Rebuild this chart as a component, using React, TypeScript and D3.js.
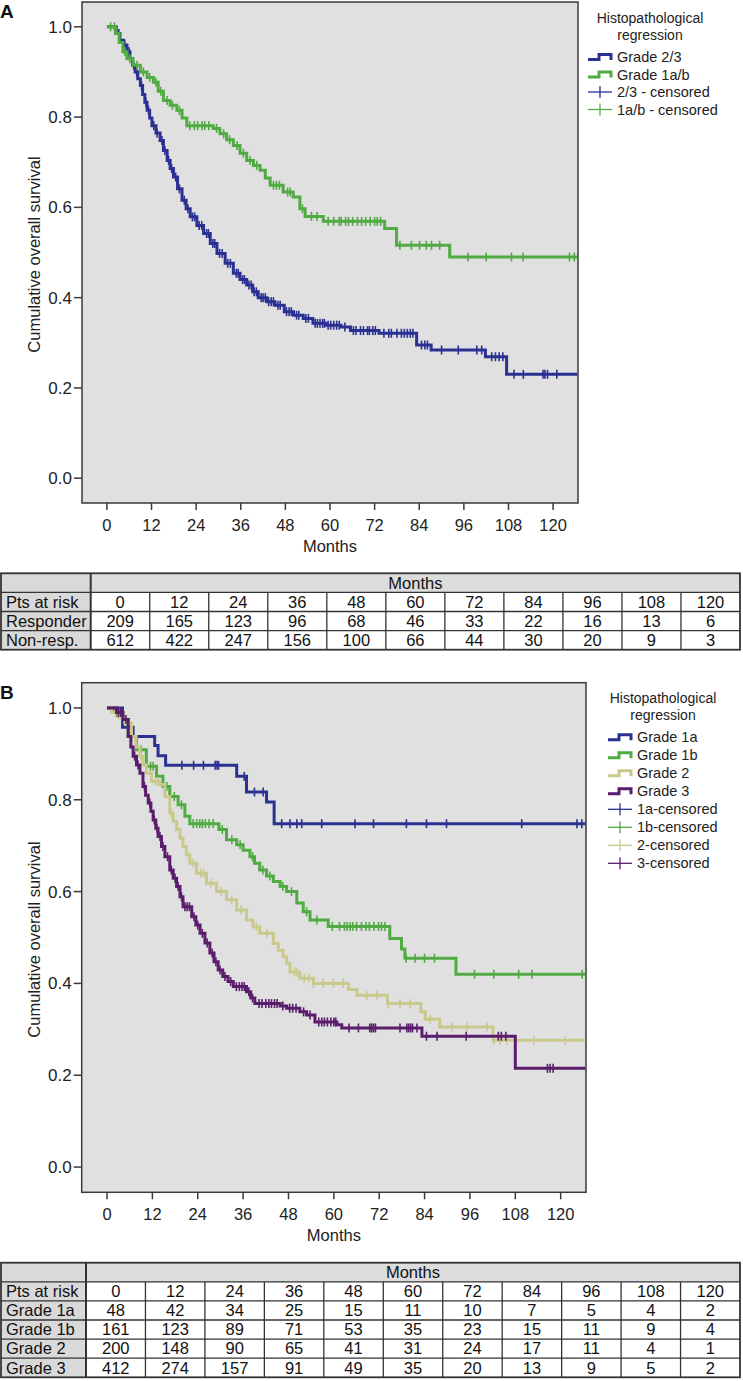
import React from 'react';
import * as d3 from 'd3';

// ---------- shared ticks ----------
const monthTicks = [0, 12, 24, 36, 48, 60, 72, 84, 96, 108, 120];
const survTicks = [0, 0.2, 0.4, 0.6, 0.8, 1.0];

// ---------- Panel A data ----------
const aGrade23Times = [2.5, 3.5, 4.5, 5.4, 6.2, 6.9, 7.6, 8.3, 9.0, 9.6, 10.2, 10.8, 11.5, 12.1, 13.2, 14.3, 15.2, 16.2, 17.0, 17.9, 19.0, 20.2, 21.3, 22.4, 24.2, 26.0, 27.8, 29.6, 31.8, 34.0, 35.8, 37.6, 39.2, 40.7, 43.0, 45.2, 47.7, 50.2, 52.8, 55.4, 59.0, 63.0, 65.5, 73.2, 83.3, 87.2, 101.8, 107.5];
const aGrade23Surv = [0.985, 0.97, 0.96, 0.945, 0.93, 0.915, 0.9, 0.885, 0.87, 0.85, 0.833, 0.815, 0.798, 0.781, 0.765, 0.748, 0.726, 0.704, 0.686, 0.667, 0.641, 0.616, 0.597, 0.579, 0.56, 0.542, 0.52, 0.498, 0.476, 0.454, 0.44, 0.428, 0.413, 0.4, 0.391, 0.383, 0.369, 0.361, 0.354, 0.343, 0.339, 0.335, 0.327, 0.321, 0.295, 0.284, 0.269, 0.23];
const aGrade23Censored = [3.2, 4.8, 6.0, 7.2, 8.0, 9.3, 10.5, 11.2, 12.6, 13.5, 14.8, 15.6, 16.6, 17.4, 18.5, 19.5, 20.8, 21.8, 23.0, 23.6, 24.8, 25.5, 26.8, 27.3, 28.5, 29.0, 30.3, 31.0, 32.5, 33.2, 34.8, 35.3, 36.5, 37.0, 38.2, 38.8, 39.6, 40.2, 41.5, 42.0, 42.6, 43.5, 44.2, 44.8, 46.0, 46.6, 48.3, 49.0, 49.6, 51.0, 51.6, 53.5, 54.2, 56.0, 56.6, 57.3, 58.0, 58.5, 59.5, 60.2, 61.0, 61.8, 62.5, 64.0, 66.3, 67.0, 68.2, 69.0, 70.1, 70.6, 71.5, 72.2, 74.5, 75.8, 76.5, 78.0, 79.2, 80.0, 80.8, 81.6, 82.3, 84.6, 85.5, 86.2, 90.0, 94.5, 99.5, 100.8, 103.5, 104.5, 105.5, 106.5, 109.5, 112.0, 117.3, 117.8, 118.5, 121.0];
const aGrade1abTimes = [2.3, 3.3, 4.3, 5.4, 7.0, 9.0, 10.8, 12.5, 13.8, 15.2, 17.0, 18.8, 20.2, 21.5, 28.6, 30.4, 32.2, 34.0, 35.8, 37.6, 39.4, 41.2, 42.6, 43.9, 47.4, 50.1, 51.9, 53.3, 58.2, 74.7, 77.9, 92.2];
const aGrade1abSurv = [0.985, 0.965, 0.945, 0.929, 0.915, 0.9, 0.888, 0.877, 0.857, 0.837, 0.826, 0.815, 0.798, 0.781, 0.775, 0.763, 0.75, 0.737, 0.72, 0.704, 0.693, 0.682, 0.665, 0.649, 0.634, 0.623, 0.597, 0.58, 0.569, 0.553, 0.516, 0.49];
const aGrade1abCensored = [1.0, 2.0, 4.8, 6.2, 8.1, 9.8, 11.5, 13.2, 14.5, 16.2, 17.6, 19.5, 22.3, 23.5, 24.4, 25.6, 26.3, 27.4, 29.5, 31.4, 33.0, 35.0, 36.7, 38.5, 40.3, 44.8, 45.6, 46.4, 48.6, 49.3, 52.6, 55.0, 56.5, 59.5, 61.0, 62.5, 63.0, 64.2, 65.0, 66.1, 67.4, 68.5, 69.6, 70.8, 72.0, 72.7, 73.6, 78.8, 81.9, 84.1, 85.9, 87.3, 89.5, 97.1, 102.0, 108.8, 111.9, 124.4, 125.7];

// ---------- Panel B data ----------
const bGrade1aTimes = [4.1, 6.9, 12.6, 13.5, 15.5, 34.3, 36.9, 42.2, 44.2];
const bGrade1aSurv = [0.958, 0.938, 0.918, 0.896, 0.875, 0.851, 0.817, 0.795, 0.748];
const bGrade1aCensored = [19.8, 22.9, 25.5, 28.6, 29.1, 29.5, 36.3, 39.0, 41.3, 46.2, 48.4, 50.2, 51.5, 56.8, 65.6, 70.5, 79.2, 84.5, 89.8, 109.7, 124.3, 125.6];
const bGrade1bTimes = [1.6, 4.2, 5.6, 7.8, 10.4, 13.1, 14.8, 16.6, 18.8, 20.6, 21.9, 29.6, 31.6, 34.3, 36.0, 37.8, 39.0, 40.4, 42.2, 44.0, 45.8, 47.5, 50.2, 51.9, 53.7, 58.5, 74.8, 77.9, 78.8, 92.3];
const bGrade1bSurv = [0.99, 0.975, 0.938, 0.909, 0.873, 0.851, 0.829, 0.807, 0.789, 0.764, 0.748, 0.735, 0.713, 0.702, 0.69, 0.676, 0.662, 0.647, 0.634, 0.622, 0.611, 0.6, 0.575, 0.556, 0.538, 0.524, 0.498, 0.475, 0.455, 0.42];
const bGrade1bCensored = [2.5, 3.2, 6.5, 9.0, 11.5, 12.2, 15.8, 17.8, 19.7, 22.8, 23.7, 24.5, 25.2, 26.0, 27.0, 28.1, 30.5, 33.0, 35.2, 38.5, 41.2, 43.1, 46.5, 48.8, 52.8, 55.5, 59.6, 61.5, 62.8, 63.5, 64.3, 65.0, 66.0, 67.3, 68.5, 69.4, 70.6, 71.8, 72.6, 73.5, 79.1, 81.5, 84.0, 86.6, 97.2, 102.3, 108.9, 112.4, 125.7];
const bGrade2Times = [1.2, 3.0, 4.7, 6.5, 7.6, 8.7, 9.5, 10.4, 11.8, 14.0, 15.3, 16.6, 17.5, 18.4, 19.3, 20.1, 21.0, 21.9, 23.7, 26.3, 29.0, 31.6, 34.3, 36.9, 38.6, 40.4, 44.0, 45.3, 46.6, 47.5, 48.4, 51.0, 54.6, 63.9, 66.1, 74.2, 83.0, 84.2, 88.0, 102.1];
const bGrade2Surv = [0.99, 0.98, 0.967, 0.938, 0.915, 0.895, 0.876, 0.858, 0.84, 0.833, 0.807, 0.771, 0.753, 0.735, 0.716, 0.698, 0.68, 0.662, 0.64, 0.618, 0.6, 0.582, 0.56, 0.538, 0.523, 0.509, 0.487, 0.472, 0.458, 0.444, 0.425, 0.411, 0.4, 0.387, 0.374, 0.356, 0.338, 0.322, 0.305, 0.276];
const bGrade2Censored = [2.2, 5.5, 9.0, 12.8, 13.5, 17.0, 22.8, 24.8, 25.5, 27.5, 30.2, 33.0, 35.5, 39.5, 42.3, 49.6, 50.3, 52.2, 53.4, 54.6, 57.2, 59.9, 62.5, 68.7, 71.4, 74.4, 77.5, 80.2, 85.5, 91.2, 95.2, 100.5, 102.3, 104.0, 105.8, 108.0, 112.9, 121.2];
const bGrade3Times = [2.5, 4.2, 5.6, 6.3, 6.9, 7.8, 8.7, 9.5, 10.2, 10.9, 11.6, 12.2, 12.9, 13.5, 14.4, 15.3, 16.6, 17.5, 18.4, 19.3, 20.1, 22.4, 23.5, 24.6, 25.9, 27.2, 28.3, 29.4, 30.6, 32.0, 33.4, 36.9, 38.0, 39.1, 45.8, 47.5, 51.0, 52.8, 55.0, 60.8, 62.1, 83.3, 108.0];
const bGrade3Surv = [0.99, 0.975, 0.938, 0.915, 0.895, 0.876, 0.858, 0.829, 0.81, 0.793, 0.775, 0.756, 0.738, 0.72, 0.698, 0.676, 0.647, 0.629, 0.611, 0.589, 0.567, 0.545, 0.527, 0.509, 0.488, 0.466, 0.447, 0.429, 0.415, 0.404, 0.393, 0.382, 0.368, 0.356, 0.351, 0.346, 0.338, 0.331, 0.316, 0.31, 0.303, 0.285, 0.215];
const bGrade3Censored = [3.0, 3.6, 5.0, 7.3, 8.2, 9.9, 11.3, 12.5, 13.2, 14.0, 14.8, 16.0, 17.0, 18.0, 18.8, 19.7, 20.6, 21.2, 21.8, 23.0, 24.0, 25.2, 26.5, 27.8, 28.8, 29.9, 31.2, 32.7, 34.2, 35.0, 35.7, 36.3, 37.5, 38.5, 40.2, 41.0, 42.0, 42.8, 43.5, 44.3, 45.0, 46.5, 48.3, 49.1, 50.0, 52.0, 53.7, 56.0, 56.8, 57.5, 58.3, 59.2, 60.0, 60.5, 64.0, 66.5, 69.5, 70.0, 70.5, 71.0, 77.5, 79.3, 79.8, 80.3, 80.8, 82.0, 84.5, 87.3, 95.0, 103.5, 104.3, 105.5, 116.5, 117.2, 118.0];

// ---------- risk tables ----------
const riskMonths = ['0', '12', '24', '36', '48', '60', '72', '84', '96', '108', '120'];
const aRiskLabels = ['Responder', 'Non-resp.'];
const aRiskResponder = [209, 165, 123, 96, 68, 46, 33, 22, 16, 13, 6];
const aRiskNonResp = [612, 422, 247, 156, 100, 66, 44, 30, 20, 9, 3];
const bRiskLabels = ['Grade 1a', 'Grade 1b', 'Grade 2', 'Grade 3'];
const bRisk1a = [48, 42, 34, 25, 15, 11, 10, 7, 5, 4, 2];
const bRisk1b = [161, 123, 89, 71, 53, 35, 23, 15, 11, 9, 4];
const bRisk2 = [200, 148, 90, 65, 41, 31, 24, 17, 11, 4, 1];
const bRisk3 = [412, 274, 157, 91, 49, 35, 20, 13, 9, 5, 2];

// ---------- legends ----------
const aLegendCurves = ['Grade 2/3', 'Grade 1a/b'];
const aLegendCensored = ['2/3 - censored', '1a/b - censored'];
const bLegendCurves = ['Grade 1a', 'Grade 1b', 'Grade 2', 'Grade 3'];
const bLegendCensored = ['1a-censored', '1b-censored', '2-censored', '3-censored'];

const BLUE = '#2b3192';
const GREEN = '#4fab42';
const KHAKI = '#c9c98c';
const PURPLE = '#5a1d6c';

const FONT = '"Liberation Sans", Arial, Helvetica, sans-serif';
const END_TIME = 126.5;

type Curve = { times: number[]; surv: number[]; cens: number[]; color: string };

function survAt(c: Curve, t: number) {
  let s = 1;
  for (let i = 0; i < c.times.length; i++) {
    if (c.times[i] <= t) s = c.surv[i];
  }
  return s;
}

type PanelProps = {
  letter: string;
  left: number; right: number; top: number; bottom: number;
  curves: Curve[];
  legendX: number; legendTop: number; legendTitleX: number; legendStep: number;
  legendCurves: string[]; legendCensored: string[];
};

function Panel(p: PanelProps) {
  const x = d3.scaleLinear().domain([-6.7, 126.7]).range([p.left, p.right]);
  const y = d3.scaleLinear().domain([-0.055, 1.055]).range([p.bottom, p.top]);
  const line = d3.line<[number, number]>().x(d => x(d[0])).y(d => y(d[1])).curve(d3.curveStepAfter);
  const midY = (p.top + p.bottom) / 2;
  const colors = p.curves.map(c => c.color);
  return (
    <g fontFamily={FONT}>
      <text x={0} y={p.top + 16} fontSize={19} fontWeight="bold" fill="#111">{p.letter}</text>
      <rect x={p.left} y={p.top} width={p.right - p.left} height={p.bottom - p.top} fill="#e0e0e0" stroke="#3a3a3a" strokeWidth={1.5} />
      {survTicks.map(t => (
        <g key={'y' + t}>
          <line x1={p.left - 8} x2={p.left} y1={y(t)} y2={y(t)} stroke="#3a3a3a" strokeWidth={1.5} />
          <text x={p.left - 10} y={y(t) + 6} textAnchor="end" fontSize={17} fill="#222">{d3.format('.1f')(t)}</text>
        </g>
      ))}
      {monthTicks.map(t => (
        <g key={'x' + t}>
          <line x1={x(t)} x2={x(t)} y1={p.bottom} y2={p.bottom + 7} stroke="#3a3a3a" strokeWidth={1.5} />
          <text x={x(t)} y={p.bottom + 27.5} textAnchor="middle" fontSize={16.5} fill="#222">{t}</text>
        </g>
      ))}
      <text x={(p.left + p.right) / 2} y={p.bottom + 49} textAnchor="middle" fontSize={16.5} fill="#222">Months</text>
      <text transform={`translate(40,${midY + 2}) rotate(-90)`} textAnchor="middle" fontSize={16.5} fill="#222">Cumulative overall survival</text>
      {p.curves.map((c, i) => {
        const pts: [number, number][] = [[0, 1], ...c.times.map((t, j) => [t, c.surv[j]] as [number, number]), [END_TIME, c.surv[c.surv.length - 1]]];
        return (
          <g key={'c' + i}>
            <path d={line(pts) || ''} fill="none" stroke={c.color} strokeWidth={3} />
            {c.cens.map((t, j) => (
              <line key={j} x1={x(t)} x2={x(t)} y1={y(survAt(c, t)) - 4.5} y2={y(survAt(c, t)) + 4.5} stroke={c.color} strokeWidth={1.6} />
            ))}
          </g>
        );
      })}
      <text x={p.legendTitleX} y={p.legendTop} textAnchor="middle" fontSize={14} fill="#222">Histopathological</text>
      <text x={p.legendTitleX} y={p.legendTop + 17} textAnchor="middle" fontSize={14} fill="#222">regression</text>
      {p.legendCurves.map((name, i) => {
        const by = p.legendTop + 39 + i * p.legendStep;
        const x0 = p.legendX;
        return (
          <g key={'lc' + i}>
            <path d={`M${x0},${by - 2.5}H${x0 + 11}V${by - 7.5}H${x0 + 23}V${by - 2}`} fill="none" stroke={colors[i]} strokeWidth={3} />
            <text x={x0 + 29} y={by} fontSize={14.5} fill="#222">{name}</text>
          </g>
        );
      })}
      {p.legendCensored.map((name, i) => {
        const by = p.legendTop + 39 + (i + p.legendCurves.length) * p.legendStep;
        const x0 = p.legendX;
        return (
          <g key={'lk' + i}>
            <line x1={x0} x2={x0 + 24} y1={by - 5} y2={by - 5} stroke={colors[i]} strokeWidth={1.3} />
            <line x1={x0 + 12} x2={x0 + 12} y1={by - 11} y2={by + 1} stroke={colors[i]} strokeWidth={1.3} />
            <text x={x0 + 29} y={by} fontSize={14.5} fill="#222">{name}</text>
          </g>
        );
      })}
    </g>
  );
}

type TableProps = { top: number; firstColW: number; labels: string[]; rows: number[][] };

function RiskTable(t: TableProps) {
  const rowH = 19.1;
  const L = 1, R = 740;
  const cols = d3.scaleBand<string>().domain(riskMonths).range([t.firstColW, R]);
  const allRows: { label: string; vals: (string | number)[] }[] = [
    { label: 'Pts at risk', vals: riskMonths },
    ...t.labels.map((l, i) => ({ label: l, vals: t.rows[i] })),
  ];
  const nRows = allRows.length + 1;
  const bottom = t.top + nRows * rowH;
  return (
    <g fontFamily={FONT} fontSize={16.5} fill="#111">
      <rect x={L} y={t.top} width={R - L} height={nRows * rowH} fill="#fff" />
      <rect x={L} y={t.top} width={t.firstColW - L} height={nRows * rowH} fill="#d9d9d9" />
      <rect x={t.firstColW} y={t.top} width={R - t.firstColW} height={rowH} fill="#dcdcdc" />
      <text x={(t.firstColW + R) / 2} y={t.top + rowH / 2 + 5.8} textAnchor="middle">Months</text>
      {allRows.map((r, i) => {
        const ry = t.top + (i + 1) * rowH;
        return (
          <g key={i}>
            <text x={6} y={ry + rowH / 2 + 5.8}>{r.label}</text>
            {r.vals.map((v, j) => (
              <text key={j} x={(cols(riskMonths[j]) || 0) + cols.bandwidth() / 2} y={ry + rowH / 2 + 5.8} textAnchor="middle">{v}</text>
            ))}
          </g>
        );
      })}
      {d3.range(1, nRows).map(i => (
        <line key={'h' + i} x1={L} x2={R} y1={t.top + i * rowH} y2={t.top + i * rowH} stroke="#333" strokeWidth={1.3} />
      ))}
      {riskMonths.slice(1).map(m => (
        <line key={'v' + m} x1={cols(m)} x2={cols(m)} y1={t.top + rowH} y2={bottom} stroke="#333" strokeWidth={1.3} />
      ))}
      <line x1={t.firstColW} x2={t.firstColW} y1={t.top} y2={bottom} stroke="#333" strokeWidth={2} />
      <rect x={L} y={t.top} width={R - L} height={nRows * rowH} fill="none" stroke="#333" strokeWidth={1.8} />
    </g>
  );
}

export default function App() {
  const curvesA: Curve[] = [
    { times: aGrade23Times, surv: aGrade23Surv, cens: aGrade23Censored, color: BLUE },
    { times: aGrade1abTimes, surv: aGrade1abSurv, cens: aGrade1abCensored, color: GREEN },
  ];
  const curvesB: Curve[] = [
    { times: bGrade1aTimes, surv: bGrade1aSurv, cens: bGrade1aCensored, color: BLUE },
    { times: bGrade1bTimes, surv: bGrade1bSurv, cens: bGrade1bCensored, color: GREEN },
    { times: bGrade2Times, surv: bGrade2Surv, cens: bGrade2Censored, color: KHAKI },
    { times: bGrade3Times, surv: bGrade3Surv, cens: bGrade3Censored, color: PURPLE },
  ];
  return (
    <svg width={743} height={1381} style={{ position: 'absolute', left: 0, top: 0, background: '#fff' }}>
      <Panel letter="A" left={82} right={578} top={2} bottom={503}
        curves={curvesA} legendX={588} legendTop={23} legendTitleX={650} legendStep={17.5}
        legendCurves={aLegendCurves} legendCensored={aLegendCensored} />
      <RiskTable top={573.3} firstColW={90.7} labels={aRiskLabels} rows={[aRiskResponder, aRiskNonResp]} />
      <Panel letter="B" left={81.7} right={586} top={682.7} bottom={1192.3}
        curves={curvesB} legendX={608} legendTop={703.3} legendTitleX={663} legendStep={18}
        legendCurves={bLegendCurves} legendCensored={bLegendCensored} />
      <RiskTable top={1262.7} firstColW={86} labels={bRiskLabels} rows={[bRisk1a, bRisk1b, bRisk2, bRisk3]} />
    </svg>
  );
}
